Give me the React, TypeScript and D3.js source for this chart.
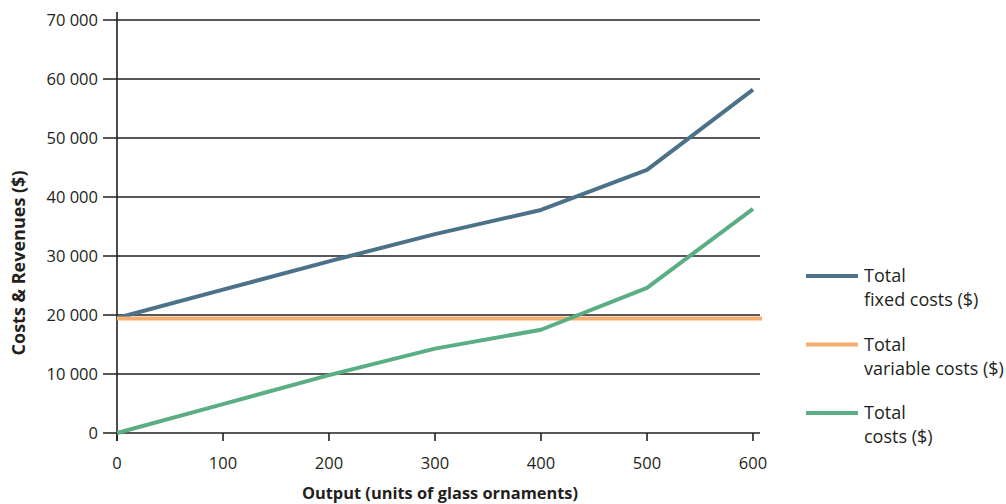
import React from "react";
import * as d3 from "d3";

const outputs = [0, 100, 200, 300, 400, 500, 600];
const fixedCosts = [19500, 24300, 29100, 33700, 37800, 44600, 58200];
const variableCosts = [19400, 19400, 19400, 19400, 19400, 19400, 19400];
const totalCosts = [0, 4900, 9800, 14300, 17500, 24600, 38000];
const yTicks = [0, 10000, 20000, 30000, 40000, 50000, 60000, 70000];
const xTicks = [0, 100, 200, 300, 400, 500, 600];

const series = [
  { name: ["Total", "fixed costs ($)"], values: fixedCosts, color: "#4b7289" },
  { name: ["Total", "variable costs ($)"], values: variableCosts, color: "#f5ae6f" },
  { name: ["Total", "costs ($)"], values: totalCosts, color: "#5bad83" },
];

const font = "'Open Sans', 'Noto Sans', sans-serif";

export default function App() {
  const W = 1006, H = 504;
  const x = d3.scaleLinear().domain([0, 600]).range([117, 753]);
  const y = d3.scaleLinear().domain([0, 70000]).range([433, 20]);
  const fmt = (v: number) => d3.format(",")(v).replace(/,/g, " ");
  const line = (vals: number[]) =>
    d3.line<number>().x((_, i) => x(outputs[i])).y((d) => y(d))(vals) || "";
  const ink = "#231f20";

  return (
    <svg width={W} height={H} style={{ position: "absolute", left: 0, top: 0 }} fontFamily={font}>
      {yTicks.map((t) => (
        <g key={t}>
          <line x1={103} x2={760} y1={y(t)} y2={y(t)} stroke={ink} strokeWidth={1.6} />
          <text x={98} y={y(t)} dy="0.35em" textAnchor="end" fontSize={16.5} fill={ink}>
            {fmt(t)}
          </text>
        </g>
      ))}
      <line x1={117} x2={117} y1={12} y2={441} stroke={ink} strokeWidth={1.6} />
      {xTicks.map((t) => (
        <g key={t}>
          <line x1={x(t)} x2={x(t)} y1={433} y2={441} stroke={ink} strokeWidth={1.6} />
          <text x={x(t)} y={463} dy="0.35em" textAnchor="middle" fontSize={16.5} fill={ink}>
            {t}
          </text>
        </g>
      ))}
      {series.map((s, i) => (
        <path
          key={i}
          d={
            i === 1
              ? `M${x(0)},${y(s.values[0])}L762,${y(s.values[0])}`
              : line(s.values)
          }
          fill="none"
          stroke={s.color}
          strokeWidth={4}
          strokeLinejoin="round"
        />
      ))}
      {series.map((s, i) => {
        const ly = 276 + i * 68.5;
        return (
          <g key={"l" + i}>
            <line x1={806} x2={858} y1={ly} y2={ly} stroke={s.color} strokeWidth={4} />
            <text x={864} y={ly} dy="0.35em" fontSize={18} fill={ink}>
              {s.name[0]}
            </text>
            <text x={864} y={ly + 24} dy="0.35em" fontSize={18} fill={ink}>
              {s.name[1]}
            </text>
          </g>
        );
      })}
      <text
        transform={`translate(19,263) rotate(-90)`}
        textAnchor="middle"
        dy="0.35em"
        fontSize={18}
        fontWeight="bold"
        fill={ink}
      >
        Costs &amp; Revenues ($)
      </text>
      <text x={440} y={493} dy="0.35em" textAnchor="middle" fontSize={16.4} fontWeight="bold" fill={ink}>
        Output (units of glass ornaments)
      </text>
    </svg>
  );
}
